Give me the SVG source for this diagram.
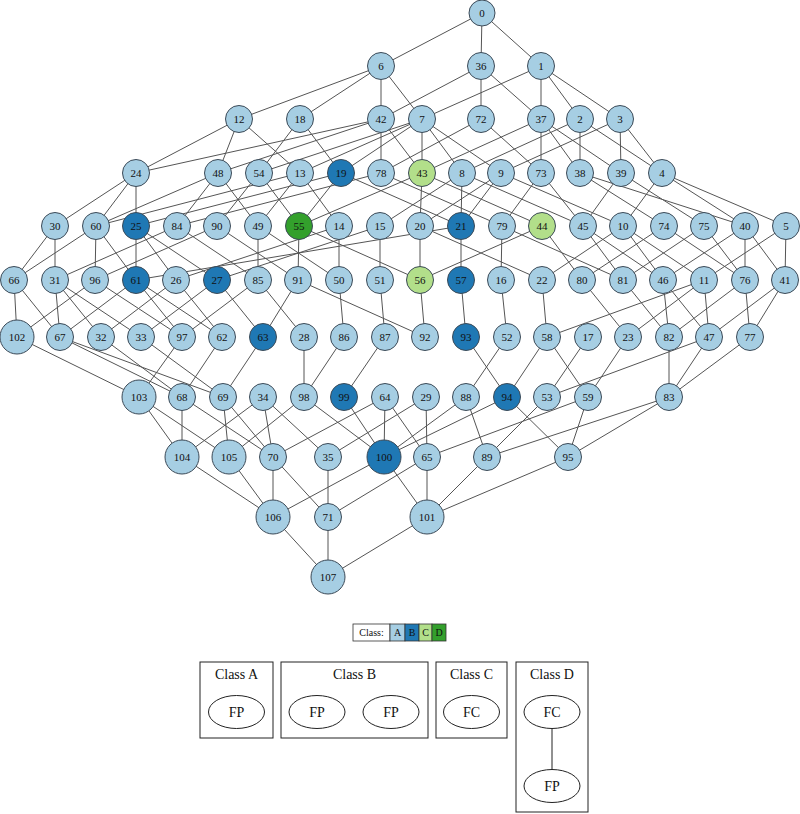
<svg xmlns="http://www.w3.org/2000/svg" width="800" height="814" viewBox="0 0 800 814">
<style>
.e line{stroke:#555;stroke-width:1;fill:none}
.n circle{stroke:#3c4a57;stroke-width:1}
.a{fill:#a6cee3}.b{fill:#1f78b4}.c{fill:#b2df8a}.d{fill:#33a02c}
.n text{font-family:"Liberation Serif",serif;font-size:11px;text-anchor:middle;dominant-baseline:central;fill:#111}
.lg text{font-family:"Liberation Serif",serif;font-size:10px;text-anchor:middle;dominant-baseline:central;fill:#111}
.cl rect{fill:none;stroke:#222;stroke-width:1}
.cl ellipse{fill:none;stroke:#222;stroke-width:1}
.cl text{font-family:"Liberation Serif",serif;font-size:14px;text-anchor:middle;dominant-baseline:central;fill:#111}
</style>
<g id="edges" class="e">
<line x1="482" y1="13" x2="381" y2="66"/><line x1="482" y1="13" x2="481" y2="66"/><line x1="482" y1="13" x2="541" y2="66"/>
<line x1="381" y1="66" x2="239" y2="119"/><line x1="381" y1="66" x2="300" y2="119"/><line x1="381" y1="66" x2="381" y2="119"/><line x1="381" y1="66" x2="422" y2="119"/>
<line x1="481" y1="66" x2="381" y2="119"/><line x1="481" y1="66" x2="481" y2="119"/><line x1="481" y1="66" x2="541" y2="119"/>
<line x1="541" y1="66" x2="422" y2="119"/><line x1="541" y1="66" x2="541" y2="119"/><line x1="541" y1="66" x2="580" y2="119"/><line x1="541" y1="66" x2="620" y2="119"/>
<line x1="239" y1="119" x2="136" y2="173"/><line x1="239" y1="119" x2="218" y2="173"/><line x1="239" y1="119" x2="300" y2="173"/>
<line x1="300" y1="119" x2="259" y2="173"/><line x1="300" y1="119" x2="341" y2="173"/>
<line x1="381" y1="119" x2="136" y2="173"/><line x1="381" y1="119" x2="218" y2="173"/><line x1="381" y1="119" x2="381" y2="173"/><line x1="381" y1="119" x2="422" y2="173"/>
<line x1="422" y1="119" x2="259" y2="173"/><line x1="422" y1="119" x2="300" y2="173"/><line x1="422" y1="119" x2="341" y2="173"/><line x1="422" y1="119" x2="422" y2="173"/><line x1="422" y1="119" x2="462" y2="173"/><line x1="422" y1="119" x2="501" y2="173"/>
<line x1="481" y1="119" x2="381" y2="173"/><line x1="481" y1="119" x2="541" y2="173"/>
<line x1="541" y1="119" x2="422" y2="173"/><line x1="541" y1="119" x2="541" y2="173"/><line x1="541" y1="119" x2="580" y2="173"/><line x1="541" y1="119" x2="621" y2="173"/>
<line x1="580" y1="119" x2="462" y2="173"/><line x1="580" y1="119" x2="580" y2="173"/><line x1="580" y1="119" x2="662" y2="173"/>
<line x1="620" y1="119" x2="501" y2="173"/><line x1="620" y1="119" x2="621" y2="173"/><line x1="620" y1="119" x2="662" y2="173"/>
<line x1="136" y1="173" x2="55" y2="226"/><line x1="136" y1="173" x2="96" y2="226"/><line x1="136" y1="173" x2="136" y2="226"/>
<line x1="218" y1="173" x2="96" y2="226"/><line x1="218" y1="173" x2="177" y2="226"/><line x1="218" y1="173" x2="258" y2="226"/>
<line x1="259" y1="173" x2="217" y2="226"/><line x1="259" y1="173" x2="299" y2="226"/>
<line x1="300" y1="173" x2="258" y2="226"/><line x1="300" y1="173" x2="339" y2="226"/><line x1="300" y1="173" x2="96" y2="226"/>
<line x1="341" y1="173" x2="299" y2="226"/><line x1="341" y1="173" x2="136" y2="226"/><line x1="341" y1="173" x2="461" y2="226"/>
<line x1="381" y1="173" x2="502" y2="226"/><line x1="381" y1="173" x2="177" y2="226"/>
<line x1="422" y1="173" x2="299" y2="226"/><line x1="422" y1="173" x2="542" y2="226"/><line x1="422" y1="173" x2="420" y2="226"/>
<line x1="462" y1="173" x2="380" y2="226"/><line x1="462" y1="173" x2="461" y2="226"/><line x1="462" y1="173" x2="583" y2="226"/>
<line x1="501" y1="173" x2="420" y2="226"/><line x1="501" y1="173" x2="461" y2="226"/><line x1="501" y1="173" x2="623" y2="226"/>
<line x1="541" y1="173" x2="502" y2="226"/><line x1="541" y1="173" x2="583" y2="226"/>
<line x1="580" y1="173" x2="664" y2="226"/><line x1="580" y1="173" x2="745" y2="226"/>
<line x1="621" y1="173" x2="583" y2="226"/><line x1="621" y1="173" x2="704" y2="226"/>
<line x1="662" y1="173" x2="623" y2="226"/><line x1="662" y1="173" x2="745" y2="226"/><line x1="662" y1="173" x2="786" y2="226"/>
<line x1="55" y1="226" x2="14" y2="280"/><line x1="55" y1="226" x2="55" y2="280"/>
<line x1="96" y1="226" x2="14" y2="280"/><line x1="96" y1="226" x2="95" y2="280"/><line x1="96" y1="226" x2="136" y2="280"/>
<line x1="136" y1="226" x2="136" y2="280"/><line x1="136" y1="226" x2="176" y2="280"/><line x1="136" y1="226" x2="217" y2="280"/>
<line x1="177" y1="226" x2="55" y2="280"/><line x1="177" y1="226" x2="258" y2="280"/>
<line x1="217" y1="226" x2="95" y2="280"/><line x1="217" y1="226" x2="298" y2="280"/>
<line x1="258" y1="226" x2="258" y2="280"/><line x1="258" y1="226" x2="339" y2="280"/>
<line x1="299" y1="226" x2="298" y2="280"/><line x1="299" y1="226" x2="420" y2="280"/>
<line x1="339" y1="226" x2="339" y2="280"/><line x1="339" y1="226" x2="176" y2="280"/>
<line x1="380" y1="226" x2="380" y2="280"/><line x1="380" y1="226" x2="217" y2="280"/>
<line x1="420" y1="226" x2="420" y2="280"/><line x1="420" y1="226" x2="542" y2="280"/>
<line x1="461" y1="226" x2="461" y2="280"/><line x1="461" y1="226" x2="136" y2="280"/>
<line x1="502" y1="226" x2="501" y2="280"/><line x1="502" y1="226" x2="623" y2="280"/>
<line x1="542" y1="226" x2="582" y2="280"/><line x1="542" y1="226" x2="420" y2="280"/>
<line x1="583" y1="226" x2="623" y2="280"/><line x1="583" y1="226" x2="663" y2="280"/>
<line x1="623" y1="226" x2="663" y2="280"/><line x1="623" y1="226" x2="704" y2="280"/><line x1="623" y1="226" x2="542" y2="280"/>
<line x1="664" y1="226" x2="582" y2="280"/><line x1="664" y1="226" x2="745" y2="280"/>
<line x1="704" y1="226" x2="745" y2="280"/><line x1="704" y1="226" x2="623" y2="280"/>
<line x1="745" y1="226" x2="745" y2="280"/><line x1="745" y1="226" x2="785" y2="280"/><line x1="745" y1="226" x2="663" y2="280"/>
<line x1="786" y1="226" x2="785" y2="280"/><line x1="786" y1="226" x2="704" y2="280"/>
<line x1="14" y1="280" x2="17" y2="337"/><line x1="14" y1="280" x2="60" y2="337"/>
<line x1="55" y1="280" x2="60" y2="337"/><line x1="55" y1="280" x2="101" y2="337"/><line x1="55" y1="280" x2="141" y2="337"/>
<line x1="95" y1="280" x2="17" y2="337"/><line x1="95" y1="280" x2="182" y2="337"/>
<line x1="136" y1="280" x2="60" y2="337"/><line x1="136" y1="280" x2="182" y2="337"/><line x1="136" y1="280" x2="222" y2="337"/>
<line x1="176" y1="280" x2="101" y2="337"/><line x1="176" y1="280" x2="222" y2="337"/>
<line x1="217" y1="280" x2="141" y2="337"/><line x1="217" y1="280" x2="263" y2="337"/>
<line x1="258" y1="280" x2="182" y2="337"/><line x1="258" y1="280" x2="304" y2="337"/>
<line x1="298" y1="280" x2="263" y2="337"/><line x1="298" y1="280" x2="425" y2="337"/>
<line x1="339" y1="280" x2="344" y2="337"/><line x1="380" y1="280" x2="385" y2="337"/><line x1="420" y1="280" x2="425" y2="337"/><line x1="461" y1="280" x2="466" y2="337"/><line x1="501" y1="280" x2="507" y2="337"/>
<line x1="542" y1="280" x2="547" y2="337"/><line x1="582" y1="280" x2="628" y2="337"/><line x1="623" y1="280" x2="669" y2="337"/>
<line x1="663" y1="280" x2="669" y2="337"/><line x1="663" y1="280" x2="709" y2="337"/>
<line x1="704" y1="280" x2="709" y2="337"/><line x1="704" y1="280" x2="628" y2="337"/><line x1="704" y1="280" x2="547" y2="337"/>
<line x1="745" y1="280" x2="750" y2="337"/><line x1="745" y1="280" x2="669" y2="337"/>
<line x1="785" y1="280" x2="750" y2="337"/><line x1="785" y1="280" x2="709" y2="337"/>
<line x1="17" y1="337" x2="139" y2="397"/><line x1="60" y1="337" x2="182" y2="397"/><line x1="60" y1="337" x2="223" y2="397"/>
<line x1="101" y1="337" x2="182" y2="397"/><line x1="141" y1="337" x2="223" y2="397"/><line x1="182" y1="337" x2="139" y2="397"/>
<line x1="222" y1="337" x2="182" y2="397"/><line x1="263" y1="337" x2="223" y2="397"/><line x1="304" y1="337" x2="304" y2="397"/>
<line x1="344" y1="337" x2="304" y2="397"/><line x1="385" y1="337" x2="344" y2="397"/><line x1="466" y1="337" x2="507" y2="397"/><line x1="507" y1="337" x2="466" y2="397"/>
<line x1="547" y1="337" x2="588" y2="397"/><line x1="547" y1="337" x2="507" y2="397"/><line x1="588" y1="337" x2="547" y2="397"/><line x1="628" y1="337" x2="588" y2="397"/>
<line x1="669" y1="337" x2="669" y2="397"/><line x1="709" y1="337" x2="669" y2="397"/><line x1="709" y1="337" x2="547" y2="397"/><line x1="750" y1="337" x2="669" y2="397"/>
<line x1="139" y1="397" x2="182" y2="457"/><line x1="139" y1="397" x2="229" y2="457"/>
<line x1="182" y1="397" x2="182" y2="457"/><line x1="182" y1="397" x2="273" y2="457"/>
<line x1="223" y1="397" x2="229" y2="457"/><line x1="223" y1="397" x2="273" y2="457"/>
<line x1="263" y1="397" x2="273" y2="457"/><line x1="263" y1="397" x2="328" y2="457"/><line x1="263" y1="397" x2="182" y2="457"/>
<line x1="304" y1="397" x2="384" y2="457"/><line x1="304" y1="397" x2="229" y2="457"/>
<line x1="344" y1="397" x2="384" y2="457"/>
<line x1="385" y1="397" x2="384" y2="457"/><line x1="385" y1="397" x2="427" y2="457"/><line x1="385" y1="397" x2="273" y2="457"/>
<line x1="426" y1="397" x2="427" y2="457"/><line x1="426" y1="397" x2="328" y2="457"/>
<line x1="466" y1="397" x2="384" y2="457"/><line x1="466" y1="397" x2="487" y2="457"/>
<line x1="507" y1="397" x2="384" y2="457"/><line x1="507" y1="397" x2="568" y2="457"/>
<line x1="588" y1="397" x2="568" y2="457"/><line x1="588" y1="397" x2="427" y2="457"/>
<line x1="669" y1="397" x2="568" y2="457"/><line x1="669" y1="397" x2="487" y2="457"/><line x1="547" y1="397" x2="487" y2="457"/>
<line x1="182" y1="457" x2="273" y2="517"/><line x1="229" y1="457" x2="273" y2="517"/><line x1="273" y1="457" x2="273" y2="517"/><line x1="273" y1="457" x2="328" y2="517"/>
<line x1="328" y1="457" x2="328" y2="517"/><line x1="384" y1="457" x2="273" y2="517"/><line x1="384" y1="457" x2="427" y2="517"/>
<line x1="427" y1="457" x2="328" y2="517"/><line x1="427" y1="457" x2="427" y2="517"/><line x1="487" y1="457" x2="427" y2="517"/><line x1="568" y1="457" x2="427" y2="517"/>
<line x1="273" y1="517" x2="328" y2="577"/><line x1="328" y1="517" x2="328" y2="577"/><line x1="427" y1="517" x2="328" y2="577"/>
</g>
<g id="n0" class="n"><circle class="a" cx="482" cy="13" r="13"/><text x="482" y="13">0</text></g>
<g id="n6" class="n"><circle class="a" cx="381" cy="66" r="13.5"/><text x="381" y="66">6</text></g>
<g id="n36" class="n"><circle class="a" cx="481" cy="66" r="13.5"/><text x="481" y="66">36</text></g>
<g id="n1" class="n"><circle class="a" cx="541" cy="66" r="13.5"/><text x="541" y="66">1</text></g>
<g id="n12" class="n"><circle class="a" cx="239" cy="119" r="13.5"/><text x="239" y="119">12</text></g>
<g id="n18" class="n"><circle class="a" cx="300" cy="119" r="13.5"/><text x="300" y="119">18</text></g>
<g id="n42" class="n"><circle class="a" cx="381" cy="119" r="13.5"/><text x="381" y="119">42</text></g>
<g id="n7" class="n"><circle class="a" cx="422" cy="119" r="13.5"/><text x="422" y="119">7</text></g>
<g id="n72" class="n"><circle class="a" cx="481" cy="119" r="13.5"/><text x="481" y="119">72</text></g>
<g id="n37" class="n"><circle class="a" cx="541" cy="119" r="13.5"/><text x="541" y="119">37</text></g>
<g id="n2" class="n"><circle class="a" cx="580" cy="119" r="13.5"/><text x="580" y="119">2</text></g>
<g id="n3" class="n"><circle class="a" cx="620" cy="119" r="13.5"/><text x="620" y="119">3</text></g>
<g id="n24" class="n"><circle class="a" cx="136" cy="173" r="13.5"/><text x="136" y="173">24</text></g>
<g id="n48" class="n"><circle class="a" cx="218" cy="173" r="13.5"/><text x="218" y="173">48</text></g>
<g id="n54" class="n"><circle class="a" cx="259" cy="173" r="13.5"/><text x="259" y="173">54</text></g>
<g id="n13" class="n"><circle class="a" cx="300" cy="173" r="13.5"/><text x="300" y="173">13</text></g>
<g id="n19" class="n"><circle class="b" cx="341" cy="173" r="13.5"/><text x="341" y="173">19</text></g>
<g id="n78" class="n"><circle class="a" cx="381" cy="173" r="13.5"/><text x="381" y="173">78</text></g>
<g id="n43" class="n"><circle class="c" cx="422" cy="173" r="13.5"/><text x="422" y="173">43</text></g>
<g id="n8" class="n"><circle class="a" cx="462" cy="173" r="13.5"/><text x="462" y="173">8</text></g>
<g id="n9" class="n"><circle class="a" cx="501" cy="173" r="13.5"/><text x="501" y="173">9</text></g>
<g id="n73" class="n"><circle class="a" cx="541" cy="173" r="13.5"/><text x="541" y="173">73</text></g>
<g id="n38" class="n"><circle class="a" cx="580" cy="173" r="13.5"/><text x="580" y="173">38</text></g>
<g id="n39" class="n"><circle class="a" cx="621" cy="173" r="13.5"/><text x="621" y="173">39</text></g>
<g id="n4" class="n"><circle class="a" cx="662" cy="173" r="13.5"/><text x="662" y="173">4</text></g>
<g id="n30" class="n"><circle class="a" cx="55" cy="226" r="13.5"/><text x="55" y="226">30</text></g>
<g id="n60" class="n"><circle class="a" cx="96" cy="226" r="13.5"/><text x="96" y="226">60</text></g>
<g id="n25" class="n"><circle class="b" cx="136" cy="226" r="13.5"/><text x="136" y="226">25</text></g>
<g id="n84" class="n"><circle class="a" cx="177" cy="226" r="13.5"/><text x="177" y="226">84</text></g>
<g id="n90" class="n"><circle class="a" cx="217" cy="226" r="13.5"/><text x="217" y="226">90</text></g>
<g id="n49" class="n"><circle class="a" cx="258" cy="226" r="13.5"/><text x="258" y="226">49</text></g>
<g id="n55" class="n"><circle class="d" cx="299" cy="226" r="13.5"/><text x="299" y="226">55</text></g>
<g id="n14" class="n"><circle class="a" cx="339" cy="226" r="13.5"/><text x="339" y="226">14</text></g>
<g id="n15" class="n"><circle class="a" cx="380" cy="226" r="13.5"/><text x="380" y="226">15</text></g>
<g id="n20" class="n"><circle class="a" cx="420" cy="226" r="13.5"/><text x="420" y="226">20</text></g>
<g id="n21" class="n"><circle class="b" cx="461" cy="226" r="13.5"/><text x="461" y="226">21</text></g>
<g id="n79" class="n"><circle class="a" cx="502" cy="226" r="13.5"/><text x="502" y="226">79</text></g>
<g id="n44" class="n"><circle class="c" cx="542" cy="226" r="13.5"/><text x="542" y="226">44</text></g>
<g id="n45" class="n"><circle class="a" cx="583" cy="226" r="13.5"/><text x="583" y="226">45</text></g>
<g id="n10" class="n"><circle class="a" cx="623" cy="226" r="13.5"/><text x="623" y="226">10</text></g>
<g id="n74" class="n"><circle class="a" cx="664" cy="226" r="13.5"/><text x="664" y="226">74</text></g>
<g id="n75" class="n"><circle class="a" cx="704" cy="226" r="13.5"/><text x="704" y="226">75</text></g>
<g id="n40" class="n"><circle class="a" cx="745" cy="226" r="13.5"/><text x="745" y="226">40</text></g>
<g id="n5" class="n"><circle class="a" cx="786" cy="226" r="13.5"/><text x="786" y="226">5</text></g>
<g id="n66" class="n"><circle class="a" cx="14" cy="280" r="13.5"/><text x="14" y="280">66</text></g>
<g id="n31" class="n"><circle class="a" cx="55" cy="280" r="13.5"/><text x="55" y="280">31</text></g>
<g id="n96" class="n"><circle class="a" cx="95" cy="280" r="13.5"/><text x="95" y="280">96</text></g>
<g id="n61" class="n"><circle class="b" cx="136" cy="280" r="13.5"/><text x="136" y="280">61</text></g>
<g id="n26" class="n"><circle class="a" cx="176" cy="280" r="13.5"/><text x="176" y="280">26</text></g>
<g id="n27" class="n"><circle class="b" cx="217" cy="280" r="13.5"/><text x="217" y="280">27</text></g>
<g id="n85" class="n"><circle class="a" cx="258" cy="280" r="13.5"/><text x="258" y="280">85</text></g>
<g id="n91" class="n"><circle class="a" cx="298" cy="280" r="13.5"/><text x="298" y="280">91</text></g>
<g id="n50" class="n"><circle class="a" cx="339" cy="280" r="13.5"/><text x="339" y="280">50</text></g>
<g id="n51" class="n"><circle class="a" cx="380" cy="280" r="13.5"/><text x="380" y="280">51</text></g>
<g id="n56" class="n"><circle class="c" cx="420" cy="280" r="13.5"/><text x="420" y="280">56</text></g>
<g id="n57" class="n"><circle class="b" cx="461" cy="280" r="13.5"/><text x="461" y="280">57</text></g>
<g id="n16" class="n"><circle class="a" cx="501" cy="280" r="13.5"/><text x="501" y="280">16</text></g>
<g id="n22" class="n"><circle class="a" cx="542" cy="280" r="13.5"/><text x="542" y="280">22</text></g>
<g id="n80" class="n"><circle class="a" cx="582" cy="280" r="13.5"/><text x="582" y="280">80</text></g>
<g id="n81" class="n"><circle class="a" cx="623" cy="280" r="13.5"/><text x="623" y="280">81</text></g>
<g id="n46" class="n"><circle class="a" cx="663" cy="280" r="13.5"/><text x="663" y="280">46</text></g>
<g id="n11" class="n"><circle class="a" cx="704" cy="280" r="13.5"/><text x="704" y="280">11</text></g>
<g id="n76" class="n"><circle class="a" cx="745" cy="280" r="13.5"/><text x="745" y="280">76</text></g>
<g id="n41" class="n"><circle class="a" cx="785" cy="280" r="13.5"/><text x="785" y="280">41</text></g>
<g id="n102" class="n"><circle class="a" cx="17" cy="337" r="17"/><text x="17" y="337">102</text></g>
<g id="n67" class="n"><circle class="a" cx="60" cy="337" r="13.5"/><text x="60" y="337">67</text></g>
<g id="n32" class="n"><circle class="a" cx="101" cy="337" r="13.5"/><text x="101" y="337">32</text></g>
<g id="n33" class="n"><circle class="a" cx="141" cy="337" r="13.5"/><text x="141" y="337">33</text></g>
<g id="n97" class="n"><circle class="a" cx="182" cy="337" r="13.5"/><text x="182" y="337">97</text></g>
<g id="n62" class="n"><circle class="a" cx="222" cy="337" r="13.5"/><text x="222" y="337">62</text></g>
<g id="n63" class="n"><circle class="b" cx="263" cy="337" r="13.5"/><text x="263" y="337">63</text></g>
<g id="n28" class="n"><circle class="a" cx="304" cy="337" r="13.5"/><text x="304" y="337">28</text></g>
<g id="n86" class="n"><circle class="a" cx="344" cy="337" r="13.5"/><text x="344" y="337">86</text></g>
<g id="n87" class="n"><circle class="a" cx="385" cy="337" r="13.5"/><text x="385" y="337">87</text></g>
<g id="n92" class="n"><circle class="a" cx="425" cy="337" r="13.5"/><text x="425" y="337">92</text></g>
<g id="n93" class="n"><circle class="b" cx="466" cy="337" r="13.5"/><text x="466" y="337">93</text></g>
<g id="n52" class="n"><circle class="a" cx="507" cy="337" r="13.5"/><text x="507" y="337">52</text></g>
<g id="n58" class="n"><circle class="a" cx="547" cy="337" r="13.5"/><text x="547" y="337">58</text></g>
<g id="n17" class="n"><circle class="a" cx="588" cy="337" r="13.5"/><text x="588" y="337">17</text></g>
<g id="n23" class="n"><circle class="a" cx="628" cy="337" r="13.5"/><text x="628" y="337">23</text></g>
<g id="n82" class="n"><circle class="a" cx="669" cy="337" r="13.5"/><text x="669" y="337">82</text></g>
<g id="n47" class="n"><circle class="a" cx="709" cy="337" r="13.5"/><text x="709" y="337">47</text></g>
<g id="n77" class="n"><circle class="a" cx="750" cy="337" r="13.5"/><text x="750" y="337">77</text></g>
<g id="n103" class="n"><circle class="a" cx="139" cy="397" r="17"/><text x="139" y="397">103</text></g>
<g id="n68" class="n"><circle class="a" cx="182" cy="397" r="13.5"/><text x="182" y="397">68</text></g>
<g id="n69" class="n"><circle class="a" cx="223" cy="397" r="13.5"/><text x="223" y="397">69</text></g>
<g id="n34" class="n"><circle class="a" cx="263" cy="397" r="13.5"/><text x="263" y="397">34</text></g>
<g id="n98" class="n"><circle class="a" cx="304" cy="397" r="13.5"/><text x="304" y="397">98</text></g>
<g id="n99" class="n"><circle class="b" cx="344" cy="397" r="13.5"/><text x="344" y="397">99</text></g>
<g id="n64" class="n"><circle class="a" cx="385" cy="397" r="13.5"/><text x="385" y="397">64</text></g>
<g id="n29" class="n"><circle class="a" cx="426" cy="397" r="13.5"/><text x="426" y="397">29</text></g>
<g id="n88" class="n"><circle class="a" cx="466" cy="397" r="13.5"/><text x="466" y="397">88</text></g>
<g id="n94" class="n"><circle class="b" cx="507" cy="397" r="13.5"/><text x="507" y="397">94</text></g>
<g id="n53" class="n"><circle class="a" cx="547" cy="397" r="13.5"/><text x="547" y="397">53</text></g>
<g id="n59" class="n"><circle class="a" cx="588" cy="397" r="13.5"/><text x="588" y="397">59</text></g>
<g id="n83" class="n"><circle class="a" cx="669" cy="397" r="13.5"/><text x="669" y="397">83</text></g>
<g id="n104" class="n"><circle class="a" cx="182" cy="457" r="17"/><text x="182" y="457">104</text></g>
<g id="n105" class="n"><circle class="a" cx="229" cy="457" r="17"/><text x="229" y="457">105</text></g>
<g id="n70" class="n"><circle class="a" cx="273" cy="457" r="13.5"/><text x="273" y="457">70</text></g>
<g id="n35" class="n"><circle class="a" cx="328" cy="457" r="13.5"/><text x="328" y="457">35</text></g>
<g id="n100" class="n"><circle class="b" cx="384" cy="457" r="17"/><text x="384" y="457">100</text></g>
<g id="n65" class="n"><circle class="a" cx="427" cy="457" r="13.5"/><text x="427" y="457">65</text></g>
<g id="n89" class="n"><circle class="a" cx="487" cy="457" r="13.5"/><text x="487" y="457">89</text></g>
<g id="n95" class="n"><circle class="a" cx="568" cy="457" r="13.5"/><text x="568" y="457">95</text></g>
<g id="n106" class="n"><circle class="a" cx="273" cy="517" r="17"/><text x="273" y="517">106</text></g>
<g id="n71" class="n"><circle class="a" cx="328" cy="517" r="13.5"/><text x="328" y="517">71</text></g>
<g id="n101" class="n"><circle class="a" cx="427" cy="517" r="17"/><text x="427" y="517">101</text></g>
<g id="n107" class="n"><circle class="a" cx="328" cy="577" r="17"/><text x="328" y="577">107</text></g>
<g id="legend" class="lg">
<rect x="353" y="624" width="37" height="17" fill="#fff" stroke="#333" stroke-width="0.8"/><text x="371.5" y="632.5">Class:</text>
<rect x="390" y="624" width="15" height="17" class="a" stroke="#333" stroke-width="0.8"/><text x="397.5" y="632.5">A</text>
<rect x="405" y="624" width="14" height="17" class="b" stroke="#333" stroke-width="0.8"/><text x="412" y="632.5">B</text>
<rect x="419" y="624" width="13" height="17" class="c" stroke="#333" stroke-width="0.8"/><text x="425.5" y="632.5">C</text>
<rect x="432" y="624" width="14" height="17" class="d" stroke="#333" stroke-width="0.8"/><text x="439" y="632.5">D</text>
</g>
<g id="classA" class="cl"><rect x="200" y="662" width="73" height="76"/><text x="236.5" y="674">Class A</text><ellipse cx="236.5" cy="712" rx="28" ry="16.5"/><text x="236.5" y="712">FP</text></g>
<g id="classB" class="cl"><rect x="281" y="662" width="147" height="76"/><text x="354.5" y="674">Class B</text><ellipse cx="317" cy="712" rx="28" ry="16.5"/><text x="317" y="712">FP</text><ellipse cx="391" cy="712" rx="28" ry="16.5"/><text x="391" y="712">FP</text></g>
<g id="classC" class="cl"><rect x="436" y="662" width="71" height="76"/><text x="471.5" y="674">Class C</text><ellipse cx="471.5" cy="712" rx="28" ry="16.5"/><text x="471.5" y="712">FC</text></g>
<g id="classD" class="cl"><rect x="516" y="662" width="72" height="150"/><text x="552" y="674">Class D</text><line x1="552" y1="728.5" x2="552" y2="770" stroke="#222"/><ellipse cx="552" cy="712" rx="28" ry="16.5"/><text x="552" y="712">FC</text><ellipse cx="552" cy="786" rx="28" ry="16.5"/><text x="552" y="786">FP</text></g>
</svg>
